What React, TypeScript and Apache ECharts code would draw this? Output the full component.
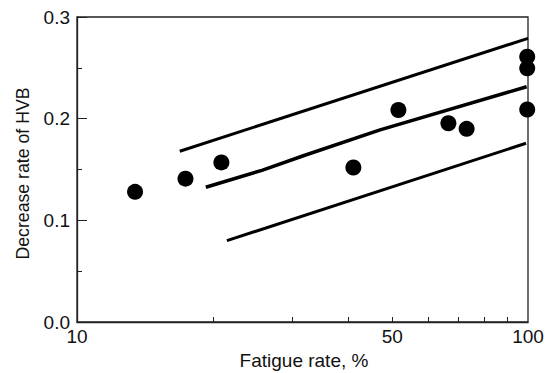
import React, { useEffect, useRef } from "react";
import * as echarts from "echarts";

const pointsX = [13.45, 17.4, 20.9, 41.0, 51.6, 66.6, 73.1, 99.6, 99.6, 99.6];
const pointsY = [0.128, 0.141, 0.157, 0.152, 0.2085, 0.1955, 0.19, 0.261, 0.2495, 0.209];

const upperX = [16.9, 100];
const upperY = [0.168, 0.279];

const middleX = [19.3, 25.7, 32.0, 47.0, 99.3];
const middleY = [0.1325, 0.1492, 0.164, 0.189, 0.2314];

const lowerX = [21.5, 99.0];
const lowerY = [0.08, 0.1758];

const xLabelValues = [10, 50, 100];
const xTickValues = [20, 30, 40, 50, 60, 70, 80, 90];

const zip = (xs: number[], ys: number[]) => xs.map((x, i) => [x, ys[i]]);

export default function App() {
  const ref = useRef<HTMLDivElement>(null);
  useEffect(() => {
    if (!ref.current) return;
    const chart = echarts.init(ref.current, undefined, { renderer: "svg" });
    const font = "Liberation Sans, Arial, sans-serif";
    const lineStyleBase = { color: "#000" };
    chart.setOption({
      animation: false,
      backgroundColor: "#fff",
      textStyle: { fontFamily: font },
      grid: {
        left: 77,
        right: 25,
        top: 17,
        bottom: 51,
        containLabel: false,
        outerBoundsMode: "none",
        show: true,
        borderColor: "#222",
        borderWidth: 1.3,
      },
      xAxis: {
        type: "log",
        logBase: 10,
        min: 10,
        max: 100,
        name: "Fatigue rate, %",
        nameLocation: "middle",
        nameGap: 27,
        nameTextStyle: { fontSize: 19, color: "#111", fontFamily: font, padding: [0, 0, 0, 3] },
        axisLine: { show: true, lineStyle: { color: "#222", width: 1.3 } },
        axisTick: {
          show: true,
          inside: true,
          length: 5,
          customValues: xTickValues,
          lineStyle: { color: "#222", width: 1 },
        },
        axisLabel: {
          show: true,
          customValues: xLabelValues,
          fontSize: 19,
          color: "#111",
          margin: 5,
          fontFamily: font,
          formatter: (v: number) => String(Math.round(v)),
        },
        splitLine: { show: false },
        minorTick: { show: false },
      },
      yAxis: {
        type: "value",
        min: 0,
        max: 0.3,
        interval: 0.1,
        name: "Decrease rate of HVB",
        nameLocation: "middle",
        nameGap: 45,
        nameRotate: 90,
        nameTextStyle: { fontSize: 17.7, color: "#111", fontFamily: font, padding: [0, 8, 0, 0] },
        axisLine: { show: true, lineStyle: { color: "#222", width: 1.3 } },
        axisTick: { show: true, inside: true, length: 10, lineStyle: { color: "#222", width: 1 } },
        minorTick: { show: true, splitNumber: 2, length: 5, lineStyle: { color: "#222", width: 1 } },
        axisLabel: {
          fontSize: 19,
          color: "#111",
          margin: 7,
          fontFamily: font,
          formatter: (v: number) => v.toFixed(1),
        },
        splitLine: { show: false },
        minorSplitLine: { show: false },
      },
      series: [
        {
          type: "line",
          data: zip(upperX, upperY),
          symbol: "none",
          lineStyle: { ...lineStyleBase, width: 3 },
          z: 2,
        },
        {
          type: "line",
          data: zip(middleX, middleY),
          symbol: "none",
          lineStyle: { ...lineStyleBase, width: 3.5 },
          z: 2,
        },
        {
          type: "line",
          data: zip(lowerX, lowerY),
          symbol: "none",
          lineStyle: { ...lineStyleBase, width: 3 },
          z: 2,
        },
        {
          type: "scatter",
          data: zip(pointsX, pointsY),
          symbol: "circle",
          symbolSize: 16,
          itemStyle: { color: "#000", opacity: 1 },
          z: 3,
        },
      ],
    });
    return () => chart.dispose();
  }, []);
  return (
    <div
      ref={ref}
      style={{ position: "fixed", left: 0, top: 0, width: 553, height: 373, background: "#fff" }}
    />
  );
}
